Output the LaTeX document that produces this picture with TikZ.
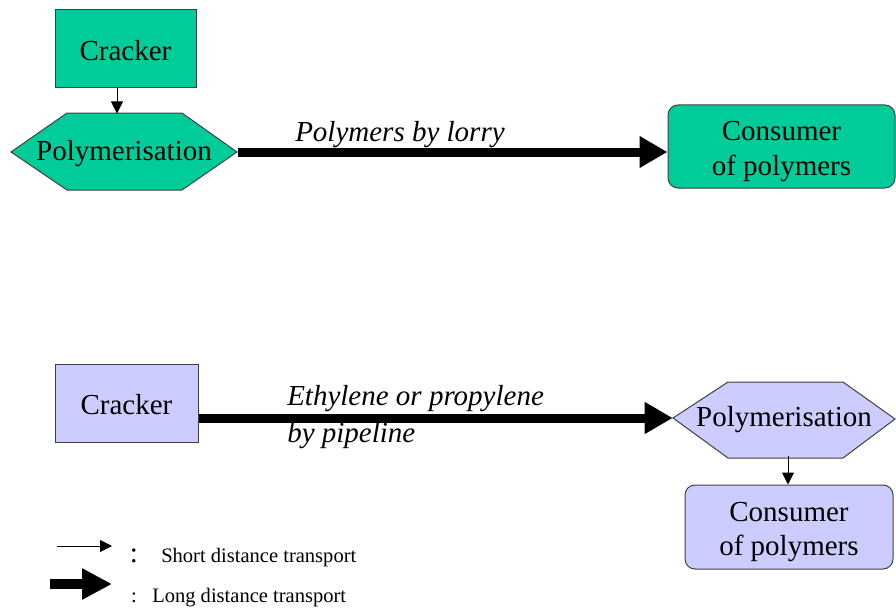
\documentclass[tikz,border=0pt]{standalone}
\usepackage{fontspec}
\setmainfont{Liberation Serif}
\usetikzlibrary{arrows.meta}
\definecolor{grn}{HTML}{00CC99}
\definecolor{lav}{HTML}{CCCCFF}
\definecolor{edge}{HTML}{404040}
\newcommand{\lowr}[2]{\raisebox{-#1}[\height][\depth]{#2}}
\tikzset{
  big/.style={font=\fontsize{21.75}{26}\selectfont},
  bigit/.style={font=\itshape\fontsize{21.75}{26}\selectfont},
  small/.style={font=\fontsize{15.4}{18}\selectfont},
  boxnode/.style={draw=edge, line width=0.75pt, big, inner sep=0pt},
  roundbox/.style={boxnode, rounded corners=7.5pt},
  hexnode/.style={big, inner sep=0pt},
  hexline/.style={draw=edge, line width=0.75pt},
  thin arrow/.style={line width=0.75pt, -{Triangle[length=9pt,width=9pt]}},
  thick arrow/.style={line width=6.75pt, -{Triangle[length=21pt,width=22.5pt]}},
  lbl/.style={bigit, inner sep=0pt}
}
\begin{document}
\begin{tikzpicture}[x=0.75pt,y=-0.75pt]
\useasboundingbox (0,0) rectangle (896,610);
% ---- top ----
\node[boxnode, fill=grn, minimum width=105.75pt, minimum height=58.5pt] (cr1) at (125.5,49) {\lowr{1.2pt}{Cracker}};
\filldraw[hexline, fill=grn] (11,152) -- (67,113) -- (182,113) -- (237,152) -- (182,190) -- (67,190) -- cycle;
\node[hexnode, minimum width=171pt, minimum height=57.75pt] (poly1) at (124,152) {\lowr{1pt}{Polymerisation}};
\node[roundbox, fill=grn, minimum width=170.25pt, minimum height=62.25pt] (cons1) at (781.5,146.5) {\lowr{3.5pt}{\begin{tabular}{@{}c@{}}Consumer\\of polymers\end{tabular}}};
\draw[thin arrow] (cr1.south -| poly1.north) ++(-7,0) -- ++(0,25);
\draw[thick arrow] (poly1.east) -- (cons1.west |- poly1.east);
\node[lbl, anchor=base west] (l1) at (295,142) {Polymers by lorry};
% ---- bottom ----
\node[boxnode, fill=lav, minimum width=107.25pt, minimum height=58.5pt] (cr2) at (126.5,403) {\lowr{1.2pt}{Cracker}};
\filldraw[hexline, fill=lav] (673,418) -- (728,382) -- (843,382) -- (895,419) -- (843,458) -- (728,458) -- cycle;
\node[hexnode, minimum width=166.5pt, minimum height=57pt] (poly2) at (784,418) {\lowr{1.5pt}{Polymerisation}};
\node[roundbox, fill=lav, minimum width=156pt, minimum height=63pt] (cons2) at (789,527) {\lowr{3.5pt}{\begin{tabular}{@{}c@{}}Consumer\\of polymers\end{tabular}}};
\draw[thick arrow] (cr2.east |- poly2.west) -- (poly2.west);
\draw[thin arrow] (poly2.south -| 788,0) -- (cons2.north -| 788,0);
\node[lbl, anchor=base west] (l2a) at (287,405) {Ethylene or propylene};
\node[lbl, anchor=base west] (l2b) at (287,442) {by pipeline};
% ---- legend ----
\coordinate (s1) at (57,546);
\coordinate (s2) at (112,546);
\draw[thin arrow] (s1) -- (s2);
\coordinate (t1) at (50,584);
\coordinate (t2) at (112,584);
\draw[line width=7.5pt, -{Triangle[length=22.5pt,width=22pt]}] (t1) -- (t2);
\node[big, inner sep=0pt] (c1) at (134,556) {:};
\node[small, anchor=west, inner sep=0pt] (leg1) at (161,558) {Short distance transport};
\node[small, inner sep=0pt] (c2) at (134,598) {:};
\node[small, anchor=west, inner sep=0pt] (leg2) at (152,598) {Long distance transport};
\end{tikzpicture}
\end{document}
